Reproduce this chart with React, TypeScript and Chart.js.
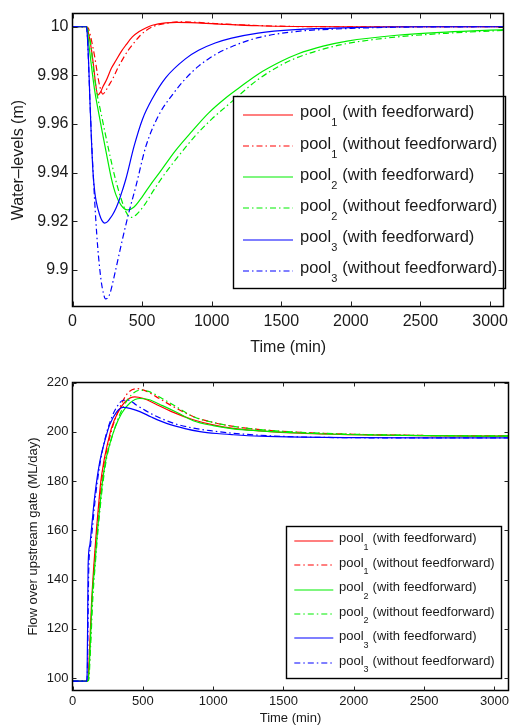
import React, { useEffect, useRef } from 'react';
import { Chart, registerables } from 'chart.js';

Chart.register(...registerables);

type Pt = [number, number];

const FONT = '"Liberation Sans", Arial, Helvetica, sans-serif';

// ---------- shared axis data ----------
const timeTicks = [0, 500, 1000, 1500, 2000, 2500, 3000];
const timeMin = 0;
const timeMax = 3100;

// ---------- top panel: water levels (m) ----------
const levelTicks = [9.9, 9.92, 9.94, 9.96, 9.98, 10];
const levelTickLabels = ['9.9', '9.92', '9.94', '9.96', '9.98', '10'];
const levelMin = 9.885;
const levelMax = 10.0054;

const level1With: Pt[] = [[0,10],[100,10],[110,9.9985],[120,9.996],[135,9.991],[150,9.9845],[165,9.977],[182,9.9719],[200,9.973],[220,9.9755],[242,9.9779],[280,9.983],[313,9.9862],[350,9.9898],[384,9.9925],[430,9.9958],[479,9.998],[530,9.9996],[574,10.0006],[669,10.0016],[750,10.0018],[850,10.0017],[1025,10.0012],[1333,10.0004],[1600,10.0001],[2000,10],[2500,10],[3100,10]];
const level1Without: Pt[] = [[0,10],[100,10],[115,9.9993],[130,9.996],[145,9.992],[160,9.9875],[178,9.981],[195,9.9758],[218,9.9723],[240,9.9738],[260,9.9758],[289,9.9786],[325,9.983],[360,9.9866],[400,9.9903],[431,9.9926],[480,9.996],[527,9.9984],[580,10.0001],[621,10.0008],[716,10.0018],[800,10.002],[1025,10.0013],[1333,10.0005],[1600,10.0001],[2000,10],[2500,10],[3100,10]];
const level2With: Pt[] = [[0,10],[100,10],[110,9.997],[120,9.9915],[140,9.982],[160,9.9735],[185,9.9655],[218,9.9555],[250,9.946],[280,9.9375],[313,9.9308],[350,9.9266],[396,9.9247],[440,9.9258],[503,9.9303],[560,9.935],[621,9.9397],[740,9.9491],[858,9.957],[977,9.9645],[1096,9.9705],[1200,9.975],[1333,9.9805],[1500,9.9858],[1618,9.9888],[1800,9.992],[1973,9.9941],[2329,9.9965],[2685,9.9978],[3100,9.9988]];
const level2Without: Pt[] = [[0,10],[100,10],[115,9.998],[130,9.993],[150,9.983],[175,9.9728],[205,9.9645],[240,9.9548],[275,9.9455],[310,9.937],[350,9.9292],[385,9.9238],[420,9.9216],[460,9.9228],[520,9.927],[580,9.9325],[640,9.9377],[760,9.9467],[880,9.955],[1000,9.962],[1120,9.968],[1333,9.9783],[1500,9.9843],[1618,9.9874],[1800,9.9908],[1973,9.9931],[2329,9.9958],[2685,9.9973],[3100,9.9985]];
const level3With: Pt[] = [[0,10],[100,10],[108,9.995],[116,9.985],[125,9.97],[135,9.955],[147,9.9405],[160,9.932],[171,9.928],[194,9.9228],[212,9.9203],[230,9.9193],[250,9.9198],[270,9.9212],[289,9.9228],[313,9.9255],[337,9.929],[360,9.933],[384,9.9375],[443,9.951],[503,9.962],[574,9.9705],[669,9.979],[811,9.9868],[906,9.9903],[1025,9.9933],[1143,9.9953],[1333,9.9974],[1600,9.9988],[2000,9.9996],[2500,10],[3100,10]];
const level3Without: Pt[] = [[0,10],[100,10],[108,9.995],[116,9.984],[125,9.97],[138,9.952],[152,9.936],[167,9.921],[182,9.9088],[206,9.8955],[222,9.8905],[237,9.8881],[252,9.8885],[270,9.8905],[290,9.895],[313,9.9008],[360,9.9129],[408,9.9243],[455,9.9343],[527,9.9508],[621,9.9638],[716,9.9719],[811,9.9786],[906,9.9838],[1025,9.9885],[1143,9.9918],[1333,9.9955],[1600,9.998],[2000,9.9993],[2500,9.9999],[3100,10]];

// ---------- bottom panel: flow over upstream gate (ML/day) ----------
const flowTicks = [100, 120, 140, 160, 180, 200, 220];
const flowTickLabels = ['100', '120', '140', '160', '180', '200', '220'];
const flowMin = 95;
const flowMax = 220;

const flow1With: Pt[] = [[0,98.8],[100,98.8],[110,99.2],[120,110],[135,130],[152,146],[171,160.7],[185,170],[201,179.7],[220,187],[237,192],[277,201.5],[320,207.5],[380,212.5],[443,214.2],[500,213.6],[600,211],[700,208.3],[858,204.9],[1000,202.8],[1143,201.4],[1333,200.4],[1618,199.4],[2000,198.8],[2500,198.4],[3100,198.2]];
const flow1Without: Pt[] = [[0,98.8],[100,98.8],[112,99.2],[125,112],[140,132],[158,148],[177,162],[192,171],[208,180],[227,188],[245,193],[285,202],[330,209],[390,215.5],[455,217.5],[520,216.6],[620,213.4],[720,210.1],[858,206.2],[1000,203.8],[1143,202.2],[1333,200.9],[1618,199.8],[2000,199],[2500,198.5],[3100,198.3]];
const flow2With: Pt[] = [[0,98.8],[100,98.8],[112,99.2],[125,112],[140,133],[159,146],[178,160],[195,170],[213,179.7],[235,188],[255,193],[301,201.5],[350,207.5],[410,211.8],[479,213.5],[540,213.1],[640,210.6],[740,207.9],[858,204.5],[1000,202.5],[1143,201.2],[1333,200.4],[1618,199.5],[2000,198.8],[2500,198.4],[3100,198.2]];
const flow2Without: Pt[] = [[0,98.8],[100,98.8],[115,99.2],[128,112],[145,133],[163,147],[183,161],[200,171],[218,180],[240,188.5],[262,194],[310,203],[360,210],[420,215],[479,216.9],[540,216.4],[640,213.4],[740,210.1],[858,206.1],[1000,203.8],[1143,202.2],[1333,200.9],[1618,199.8],[2000,199],[2500,198.5],[3100,198.3]];
const flow3With: Pt[] = [[0,98.8],[100,98.8],[104,102],[108,125],[111,145.7],[123,154],[135,160.7],[159,174.3],[194,187.9],[242,198.8],[265,202.9],[313,208],[360,209.9],[420,209.3],[479,208.2],[560,206],[669,203.4],[800,201.3],[906,200.1],[1025,199.3],[1143,198.8],[1333,198.2],[1618,197.8],[2000,197.6],[2500,197.5],[3100,197.5]];
const flow3Without: Pt[] = [[0,98.8],[100,98.8],[105,101],[110,120],[115,143],[127,153],[140,160],[165,174.5],[200,188.5],[240,199],[280,206],[320,210.5],[360,212.8],[400,212.8],[450,211],[550,207.6],[716,203.5],[858,201.5],[1000,200.3],[1143,199.4],[1333,198.6],[1618,197.9],[2000,197.6],[2500,197.5],[3100,197.5]];

// ---------- series labels ----------
const seriesPool = ['1', '1', '2', '2', '3', '3'];
const seriesCase = [
  '(with feedforward)',
  '(without feedforward)',
  '(with feedforward)',
  '(without feedforward)',
  '(with feedforward)',
  '(without feedforward)',
];

// ---------- styles ----------
const seriesColors = ['#ff0000', '#ff0000', '#00ee00', '#00ee00', '#0000ff', '#0000ff'];
const seriesDashed = [false, true, false, true, false, true];
const DASH = [6, 3, 1.5, 3];
const TEXT = '#1a1a1a';
const W = 513;
const H = 363;

interface LegendSpec {
  left: number; top: number; right: number; bottom: number;
  baseline0: number; step: number;
  lineX0: number; lineX1: number; lineDy: number;
  textX: number; size: number; subSize: number; subDy: number; gap: number;
}

interface PanelSpec {
  series: Pt[][];
  yMin: number; yMax: number;
  yTicks: number[]; yTickLabels: string[];
  yTitle: string; xTitle: string;
  tickSize: number; yTitleSize: number; xTitleSize: number;
  area: { left: number; top: number; right: number; bottom: number };
  yTickPad: number; xTickPad: number; yTitlePad: number; xTitlePad: number;
  tickLen: number;
  legend: LegendSpec;
}

function makePlugin(spec: PanelSpec) {
  return {
    id: 'matlabFrame',
    afterDatasetsDraw(chart: any) {
      const { ctx, chartArea: a } = chart;
      const xs = chart.scales.x;
      const ys = chart.scales.y;
      const L = spec.legend;
      ctx.save();
      // legend box
      ctx.fillStyle = '#ffffff';
      ctx.fillRect(L.left, L.top, L.right - L.left, L.bottom - L.top);
      ctx.strokeStyle = '#000';
      ctx.lineWidth = 1.4;
      ctx.setLineDash([]);
      ctx.strokeRect(Math.round(L.left) + 0.5, Math.round(L.top) + 0.5, Math.round(L.right - L.left), Math.round(L.bottom - L.top));
      chart.data.datasets.forEach((ds: any, i: number) => {
        const yb = L.baseline0 + i * L.step;
        ctx.strokeStyle = seriesColors[i];
        ctx.lineWidth = 1.2;
        ctx.setLineDash(seriesDashed[i] ? DASH : []);
        ctx.beginPath();
        const ly = Math.round(yb - L.lineDy);
        ctx.moveTo(L.lineX0, ly);
        ctx.lineTo(L.lineX1, ly);
        ctx.stroke();
        ctx.setLineDash([]);
        ctx.fillStyle = TEXT;
        ctx.textAlign = 'left';
        ctx.textBaseline = 'alphabetic';
        ctx.font = `${L.size}px ${FONT}`;
        ctx.fillText('pool', L.textX, yb);
        let x = L.textX + ctx.measureText('pool').width;
        ctx.font = `${L.subSize}px ${FONT}`;
        ctx.fillText(seriesPool[i], x, yb + L.subDy);
        x += ctx.measureText(seriesPool[i]).width + L.gap;
        ctx.font = `${L.size}px ${FONT}`;
        ctx.fillText(seriesCase[i], x, yb);
      });
      // frame
      const l = Math.floor(a.left) + 0.5;
      const t = Math.floor(a.top) + 0.5;
      const r = Math.floor(a.right) + 0.5;
      const b = Math.floor(a.bottom) + 0.5;
      ctx.strokeStyle = '#000';
      ctx.lineWidth = 1.5;
      ctx.strokeRect(l, t, r - l, b - t);
      // inward ticks on all sides
      const tl = spec.tickLen;
      ctx.lineWidth = 1;
      ctx.strokeStyle = '#222';
      ctx.beginPath();
      xs.ticks.forEach((tk: any) => {
        const px = Math.round(xs.getPixelForValue(tk.value)) + 0.5;
        ctx.moveTo(px, b); ctx.lineTo(px, b - tl);
        ctx.moveTo(px, t); ctx.lineTo(px, t + tl);
      });
      ys.ticks.forEach((tk: any) => {
        const py = Math.round(ys.getPixelForValue(tk.value)) + 0.5;
        ctx.moveTo(l, py); ctx.lineTo(l + tl, py);
        ctx.moveTo(r, py); ctx.lineTo(r - tl, py);
      });
      ctx.stroke();
      ctx.restore();
    },
  };
}

function buildConfig(spec: PanelSpec): any {
  const datasets = spec.series.map((pts, i) => ({
    label: `pool${seriesPool[i]} ${seriesCase[i]}`,
    data: pts.map(([x, y]) => ({ x, y })),
    borderColor: seriesColors[i],
    backgroundColor: seriesColors[i],
    borderWidth: 1.2,
    borderDash: seriesDashed[i] ? DASH : [],
    pointRadius: 0,
    cubicInterpolationMode: 'monotone',
    fill: false,
    order: spec.series.length - i,
  }));
  return {
    type: 'line',
    data: { datasets },
    options: {
      animation: false,
      responsive: false,
      maintainAspectRatio: false,
      devicePixelRatio: 1,
      events: [],
      layout: { padding: { left: 0, top: spec.area.top, right: W - spec.area.right, bottom: 0 } },
      plugins: { legend: { display: false }, tooltip: { enabled: false } },
      scales: {
        x: {
          type: 'linear',
          min: timeMin,
          max: timeMax,
          grid: { display: false, drawTicks: false },
          border: { display: false },
          afterBuildTicks: (s: any) => { s.ticks = timeTicks.map((v) => ({ value: v })); },
          afterFit: (s: any) => { s.height = H - spec.area.bottom; },
          ticks: {
            autoSkip: false, maxRotation: 0, minRotation: 0, padding: spec.xTickPad, color: TEXT,
            font: { family: FONT, size: spec.tickSize },
            callback: (v: any, i: number) => String(timeTicks[i]),
          },
          title: {
            display: true, text: spec.xTitle, color: TEXT,
            font: { family: FONT, size: spec.xTitleSize },
            padding: { top: 0, bottom: spec.xTitlePad },
          },
        },
        y: {
          type: 'linear',
          min: spec.yMin,
          max: spec.yMax,
          grid: { display: false, drawTicks: false },
          border: { display: false },
          afterBuildTicks: (s: any) => { s.ticks = spec.yTicks.map((v) => ({ value: v })); },
          afterFit: (s: any) => { s.width = spec.area.left; },
          ticks: {
            autoSkip: false, padding: spec.yTickPad, color: TEXT,
            font: { family: FONT, size: spec.tickSize },
            callback: (v: any, i: number) => spec.yTickLabels[i],
          },
          title: {
            display: true, text: spec.yTitle, color: TEXT,
            font: { family: FONT, size: spec.yTitleSize },
            padding: { top: spec.yTitlePad, bottom: 0 },
          },
        },
      },
    },
    plugins: [makePlugin(spec)],
  };
}

const topSpec: PanelSpec = {
  series: [level1With, level1Without, level2With, level2Without, level3With, level3Without],
  yMin: levelMin, yMax: levelMax,
  yTicks: levelTicks, yTickLabels: levelTickLabels,
  yTitle: 'Water\u2013levels (m)', xTitle: 'Time (min)',
  tickSize: 16, yTitleSize: 16, xTitleSize: 16,
  area: { left: 72.5, top: 6.5, right: 508.5, bottom: 306.5 },
  yTickPad: 4, xTickPad: 5, yTitlePad: 9, xTitlePad: 6,
  tickLen: 5,
  legend: {
    left: 233, top: 96, right: 505, bottom: 288,
    baseline0: 117.3, step: 31.2,
    lineX0: 243, lineX1: 293, lineDy: 2.6,
    textX: 300, size: 16.5, subSize: 11, subDy: 9, gap: 5,
  },
};

const bottomSpec: PanelSpec = {
  series: [flow1With, flow1Without, flow2With, flow2Without, flow3With, flow3Without],
  yMin: flowMin, yMax: flowMax,
  yTicks: flowTicks, yTickLabels: flowTickLabels,
  yTitle: 'Flow over upstream gate (ML/day)', xTitle: 'Time (min)',
  tickSize: 13, yTitleSize: 13, xTitleSize: 13,
  area: { left: 72.5, top: 19.5, right: 508.5, bottom: 327.5 },
  yTickPad: 4, xTickPad: 3, yTitlePad: 26, xTitlePad: 0,
  tickLen: 4,
  legend: {
    left: 285.7, top: 163, right: 500.7, bottom: 315.3,
    baseline0: 179.3, step: 24.45,
    lineX0: 294.3, lineX1: 333.3, lineDy: 1.7,
    textX: 339, size: 13, subSize: 9, subDy: 7.5, gap: 4,
  },
};

function Panel({ spec, top }: { spec: PanelSpec; top: number }) {
  const ref = useRef<HTMLCanvasElement>(null);
  useEffect(() => {
    const chart = new Chart(ref.current as HTMLCanvasElement, buildConfig(spec));
    return () => chart.destroy();
  }, [spec]);
  return (
    <canvas
      ref={ref}
      width={W}
      height={H}
      style={{ position: 'absolute', left: 0, top, width: W, height: H, display: 'block' }}
    />
  );
}

export default function App() {
  return (
    <div style={{ position: 'absolute', left: 0, top: 0, width: W, height: 2 * H, background: '#ffffff' }}>
      <Panel spec={topSpec} top={0} />
      <Panel spec={bottomSpec} top={H} />
    </div>
  );
}
